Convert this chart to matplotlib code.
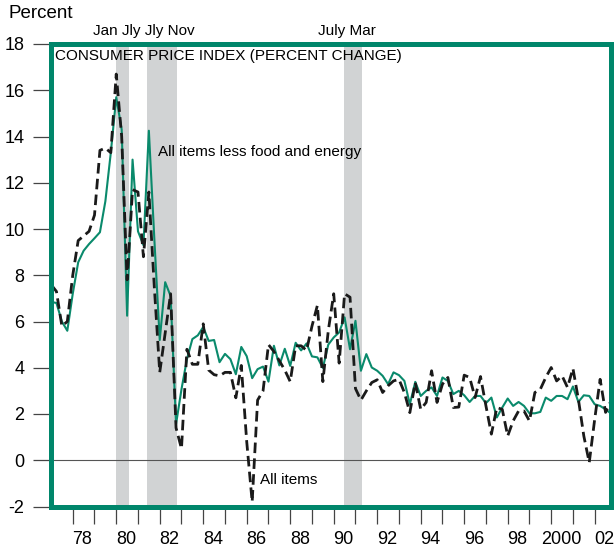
import matplotlib
matplotlib.use("Agg")
import matplotlib.pyplot as plt
import numpy as np

plt.rcParams['font.family'] = ['Liberation Sans', 'DejaVu Sans']
plt.rcParams['axes.unicode_minus'] = False

# quarterly percent change, annual rate, 1977Q1 .. 2002Q4
start_year = 1977
all_items = [
    7.6, 7.3, 5.8, 6.0,      # 1977
    8.0, 9.5, 9.7, 9.9,      # 1978
    10.6, 13.4, 13.5, 13.3,  # 1979
    16.7, 14.0, 7.8, 11.7,   # 1980
    11.6, 8.8, 11.6, 7.5,    # 1981
    3.8, 5.5, 7.2, 1.4,      # 1982
    0.5, 4.8, 4.15, 4.15,    # 1983
    5.9, 3.9, 3.7, 3.65,     # 1984
    3.8, 3.8, 2.7, 4.1,      # 1985
    0.8, -1.8, 2.6, 3.0,     # 1986
    5.0, 4.7, 4.3, 3.9,      # 1987
    3.4, 4.95, 4.95, 4.75,   # 1988
    5.8, 6.7, 3.4, 5.6,      # 1989
    7.2, 4.2, 7.2, 7.05,     # 1990
    3.1, 2.6, 3.0, 3.36,     # 1991
    3.48, 2.93, 3.22, 3.43,  # 1992
    3.5, 2.93, 2.06, 3.36,   # 1993
    2.2, 2.5, 3.87, 2.5,     # 1994
    3.29, 3.58, 2.28, 2.3,   # 1995
    3.68, 3.58, 2.71, 3.62,  # 1996
    2.35, 1.13, 2.28, 2.2,   # 1997
    1.05, 1.7, 2.13, 2.13,   # 1998
    1.7, 2.93, 3.07, 3.58,   # 1999
    4.01, 3.43, 3.65, 3.15,  # 2000
    3.97, 2.64, 1.05, -0.1,  # 2001
    1.77, 3.5, 2.07, 2.57,   # 2002
]
core = [
    6.85, 6.8, 6.0, 5.6,
    7.2, 8.56, 9.06, 9.35,
    9.6, 9.86, 11.2, 13.3,
    15.7, 14.3, 6.25, 13.0,
    9.9, 9.3, 14.25, 9.6,
    5.2, 7.7, 7.1, 1.56,
    3.07, 4.37, 5.24, 5.4,
    5.76, 5.16, 5.2, 4.24,
    4.6, 4.37, 3.72, 4.9,
    4.5, 3.55, 3.94, 4.05,
    3.4, 4.95, 4.1, 4.82,
    4.08, 5.08, 4.75, 5.05,
    4.49, 4.45, 3.99, 5.0,
    5.31, 5.53, 6.18, 4.8,
    6.03, 3.87, 4.59, 4.01,
    3.87, 3.65, 3.29, 3.8,
    3.68, 3.43, 2.42, 3.39,
    2.78, 3.0, 3.15, 2.78,
    3.58, 3.43, 2.86, 3.0,
    2.81, 2.52, 2.78, 2.78,
    2.47, 2.71, 1.85, 2.28,
    2.67, 2.35, 2.52, 2.35,
    2.03, 2.03, 2.09, 2.71,
    2.57, 2.78, 2.78, 2.64,
    3.19, 2.52, 2.81, 2.78,
    2.42, 2.35, 2.2, 2.02,
]

# recessions (peak, trough) as decimal years
rec_start = [1980.0, 1981.42, 1990.47]
rec_end = [1980.57, 1982.78, 1991.3]
rec_labels = ['Jan Jly Jly Nov', 'July Mar']

tick_years = list(range(1978, 2003))
label_years = list(range(1978, 2003, 2))
label_text = [str(y)[2:] if y != 2000 else '2000' for y in label_years]

green = '#00866b'
line_green = '#0a8a6c'

x = start_year + np.arange(len(all_items)) / 4.0

fig = plt.figure(figsize=(6.14, 5.52), dpi=100)
ax = fig.add_axes([51/614, 1-506.5/552, 560/614, 462.5/552])

for s, e in zip(rec_start, rec_end):
    ax.axvspan(s, e, color='#d1d3d4', lw=0, zorder=0)

ax.axhline(0, color='#555555', lw=0.8, zorder=1)
ax.plot(x, core, color=line_green, lw=1.5, zorder=2)
ax.plot(x, all_items, color='#1a1a1a', lw=2.0, dashes=(3.8, 1.9), zorder=3)

ax.set_xlim(1977, 2002.75)
ax.set_ylim(-2, 18)

for sp in ax.spines.values():
    sp.set_color(green)
    sp.set_linewidth(3.6)
    sp.set_zorder(5)

ax.set_yticks(range(-2, 19, 2))
ax.tick_params(axis='y', direction='out', length=13, width=0.9, color='#444444',
               pad=6, labelsize=13)
ax.set_xticks(tick_years)
ax.set_xticklabels([])
ax.set_xticks([y + 0.45 for y in label_years], minor=True)
ax.set_xticklabels(label_text, minor=True)
ax.tick_params(axis='x', which='major', direction='out', length=12, width=0.9,
               color='#444444')
ax.tick_params(axis='x', which='minor', length=0, pad=18, labelsize=13)

ax.text(1977.18, 17.5, 'CONSUMER PRICE INDEX (PERCENT CHANGE)', fontsize=11,
        va='center', ha='left', zorder=6)
ax.text(1981.92, 13.33, 'All items less food and energy', fontsize=11,
        va='center', ha='left')
ax.text(1986.61, -0.87, 'All items', fontsize=11, va='center', ha='left')

fig.text(8/614, 1-14/552, 'Percent', fontsize=13.5, va='center', ha='left')
fig.text(143.5/614, 1-31/552, rec_labels[0], fontsize=11, va='center', ha='center')
fig.text(346.5/614, 1-31/552, rec_labels[1], fontsize=11, va='center', ha='center')

fig.savefig('out.png', dpi=100)
